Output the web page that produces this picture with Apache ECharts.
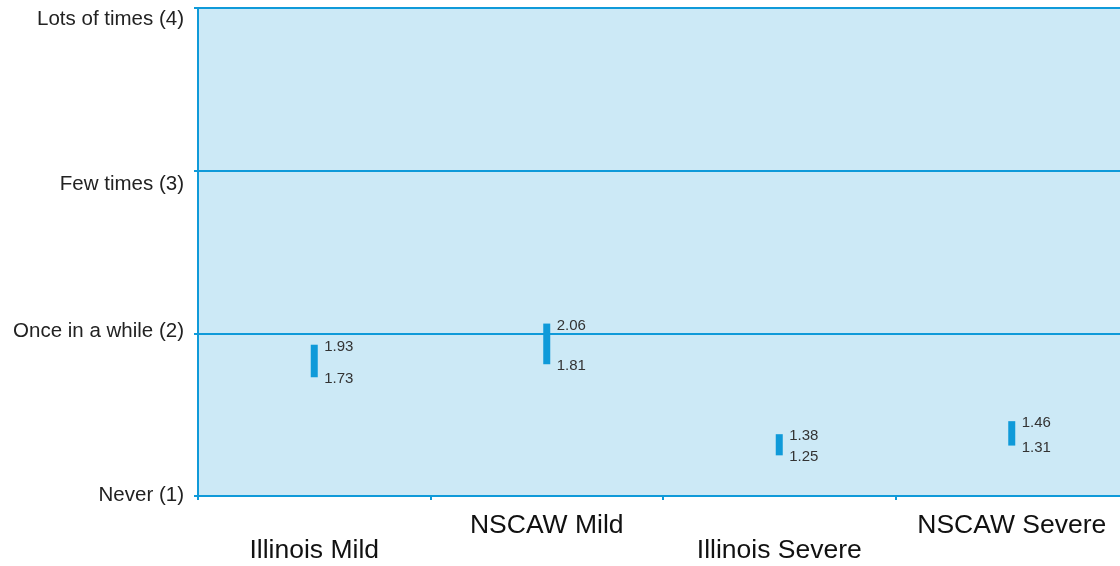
<!DOCTYPE html>
<html><head><meta charset="utf-8">
<script src="https://cdn.jsdelivr.net/npm/echarts@6/dist/echarts.min.js"></script>
<style>html,body{margin:0;padding:0;background:#fff;overflow:hidden}#c{width:1128px;height:566px}</style>
</head><body><div id="c"></div>
<script>
const categories = ['Illinois Mild', 'NSCAW Mild', 'Illinois Severe', 'NSCAW Severe'];
const lowValues = [1.73, 1.81, 1.25, 1.31];
const highValues = [1.93, 2.06, 1.38, 1.46];
const yTickLabels = {1: 'Never (1)', 2: 'Once in a while (2)', 3: 'Few times (3)', 4: 'Lots of times (4)'};

const blue = '#0f9ad9';
const font = 'Liberation Sans, Arial, Helvetica, sans-serif';
const yRich = {
  y1: {padding: [0, 0, 2, 0]},
  y2: {padding: [0, 0, 3, 0]},
  y3: {padding: [28, 0, 0, 0]},
  y4: {padding: [22, 0, 0, 0]}
};
Object.keys(yRich).forEach(k => Object.assign(yRich[k], {fontSize: 20.5, color: '#222', fontFamily: font}));

const chart = echarts.init(document.getElementById('c'));
chart.setOption({
  animation: false,
  grid: {left: 198, top: 8, right: 0, bottom: 70, show: true, backgroundColor: '#cce9f6', borderWidth: 0, outerBoundsMode: 'none', containLabel: false},
  xAxis: {
    type: 'category', data: categories,
    axisLine: {lineStyle: {color: blue, width: 2}},
    axisTick: {show: true, interval: 0, length: 4, lineStyle: {color: blue, width: 2}},
    axisLabel: {
      interval: 0, hideOverlap: false,
      margin: 16, fontSize: 26.5, color: '#111', fontFamily: font,
      formatter: (v, i) => i % 2 === 0 ? '{lo|' + v + '}' : v,
      rich: {lo: {fontSize: 26.5, color: '#111', padding: [25, 0, 0, 0], fontFamily: font}}
    }
  },
  yAxis: {
    type: 'value', min: 1, max: 4, interval: 1,
    axisLine: {show: true, lineStyle: {color: blue, width: 2}},
    axisTick: {show: true, length: 4, lineStyle: {color: blue, width: 2}},
    splitLine: {lineStyle: {color: blue, width: 2}},
    axisLabel: {margin: 14, fontSize: 20.5, color: '#222', fontFamily: font,
      formatter: v => yTickLabels[v] ? '{y' + v + '|' + yTickLabels[v] + '}' : '',
      rich: yRich}
  },
  series: [{
    type: 'custom',
    data: categories.map((c, i) => [i, lowValues[i], highValues[i]]),
    renderItem: (params, api) => {
      const i = api.value(0);
      const lo = api.coord([i, api.value(1)]);
      const hi = api.coord([i, api.value(2)]);
      const x = lo[0];
      return {
        type: 'group',
        children: [
          {type: 'rect', shape: {x: x - 3.5, y: hi[1], width: 7, height: lo[1] - hi[1]}, style: {fill: blue}},
          {type: 'text', style: {text: api.value(2).toFixed(2), x: x + 10, y: hi[1] + 2, textVerticalAlign: 'middle', fill: '#333', fontSize: 15, fontFamily: font}},
          {type: 'text', style: {text: api.value(1).toFixed(2), x: x + 10, y: lo[1] + 2, textVerticalAlign: 'middle', fill: '#333', fontSize: 15, fontFamily: font}}
        ]
      };
    }
  }]
});
</script></body></html>
